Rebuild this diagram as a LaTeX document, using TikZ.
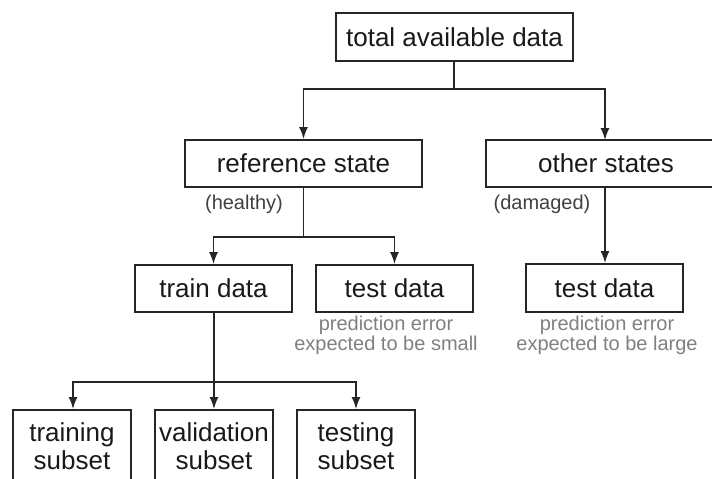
\documentclass[tikz,border=0pt]{standalone}
\usepackage{fontspec}
\setmainfont{Liberation Sans}
\usetikzlibrary{arrows.meta}
\begin{document}
\begin{tikzpicture}[x=1pt,y=-1pt,
  box/.style={draw=black!85,line width=2pt,inner sep=0pt,text=black!90,
    font=\fontsize{26}{28}\selectfont,align=center},
  lbl/.style={inner sep=0pt,text=black!75,font=\fontsize{20}{20}\selectfont},
  note/.style={inner sep=0pt,text=black!50,font=\fontsize{20}{20}\selectfont,align=center,anchor=north},
  conn/.style={draw=black!85,line width=1.5pt},
  arr/.style={conn,-{Latex[length=12pt,width=9pt]}}]
\useasboundingbox (0,0) rectangle (712,479);
\clip (0,0) rectangle (712,479);
\node[box,minimum width=237pt,minimum height=48pt] (total) at (454.5,37) {total available data};
\node[box,minimum width=237pt,minimum height=47pt] (ref) at (303.5,163.5) {reference state};
\node[box,minimum width=240pt,minimum height=47pt] (other) at (606,163.5) {other states};
\node[lbl] (healthy) at (244,204) {(healthy)};
\node[lbl] (damaged) at (542,204) {(damaged)};
\node[box,minimum width=157pt,minimum height=47pt] (train) at (213.5,288.5) {train data};
\node[box,minimum width=157pt,minimum height=47pt] (testa) at (394.5,288.5) {test data};
\node[box,minimum width=157pt,minimum height=48pt] (testb) at (604.5,288) {test data};
\node[note] (notea) at (386,316) {prediction error\\expected to be small};
\node[note] (noteb) at (607,316) {prediction error\\expected to be large};
\node[box,minimum width=118pt,minimum height=72pt] (trsub) at (72,446) {training\\subset};
\node[box,minimum width=118pt,minimum height=72pt] (vasub) at (214,446) {validation\\subset};
\node[box,minimum width=118pt,minimum height=72pt] (tesub) at (356,446) {testing\\subset};
\coordinate (j1) at (454,89);
\coordinate (j2) at (303.5,237);
\coordinate (j3) at (214,382);
\draw[conn] (total.south -| j1) -- (j1);
\draw[arr] (j1) -| (ref.north);
\draw[arr] (j1) -| (605,140);
\draw[arr] (ref.south) -- (j2) -| (train.north);
\draw[arr] (j2) -| (testa.north);
\draw[arr] (605,187) -- (testb.north -| 605,0);
\draw[arr] (train.south -| j3) -- (vasub.north);
\draw[arr] (j3) -| (trsub.north -| 73,0);
\draw[arr] (j3) -| (tesub.north);
\end{tikzpicture}
\end{document}
